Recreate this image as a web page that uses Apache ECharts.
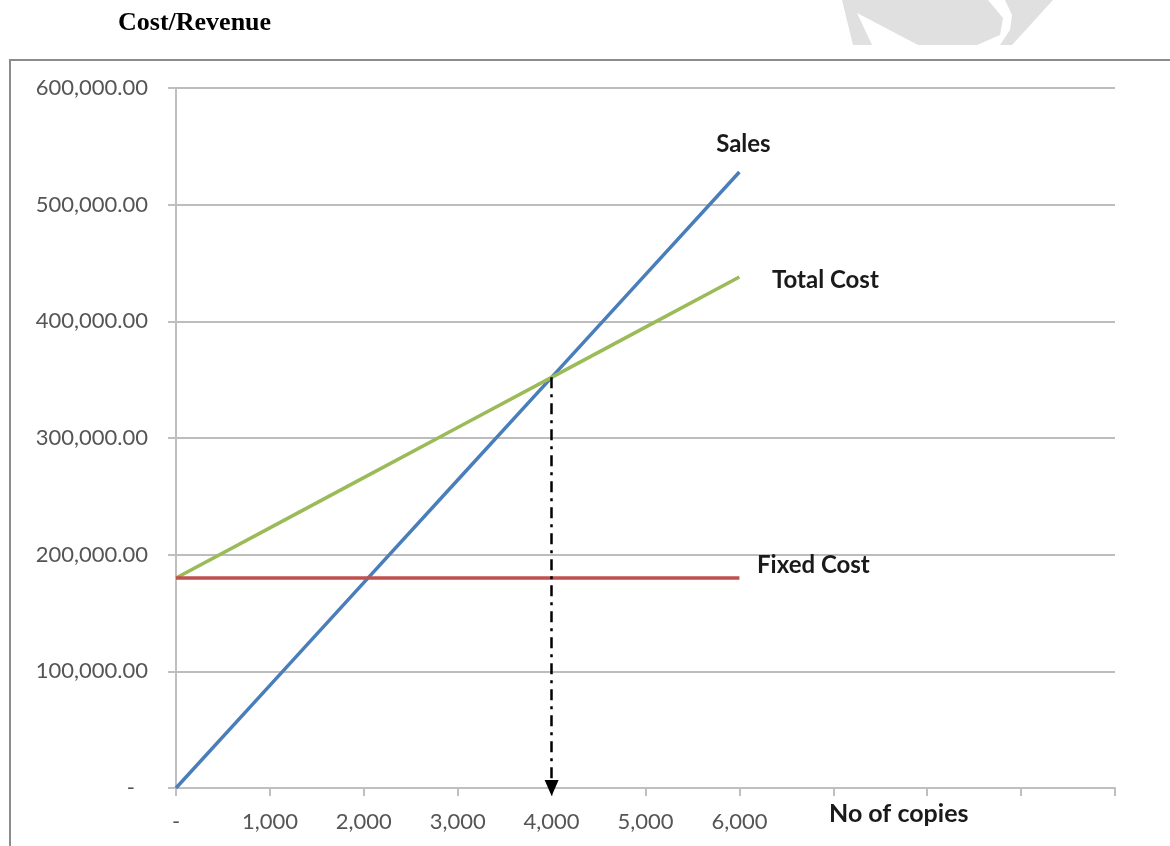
<!DOCTYPE html>
<html>
<head>
<meta charset="utf-8">
<title>Cost/Revenue</title>
<script src="https://cdn.jsdelivr.net/npm/echarts@6/dist/echarts.min.js"></script>
<style>
  html, body { margin: 0; padding: 0; background: #fff; }
  #main { width: 1170px; height: 846px; }
</style>
</head>
<body>
<div id="main"></div>
<script>
// break-even chart data
var copies = [0, 1000, 2000, 3000, 4000, 5000, 6000];
var sales = [0, 88000, 176000, 264000, 352000, 440000, 528000];
var totalCost = [180000, 223000, 266000, 309000, 352000, 395000, 438000];
var fixedCost = [180000, 180000, 180000, 180000, 180000, 180000, 180000];
var xTicks = ['-', '1,000', '2,000', '3,000', '4,000', '5,000', '6,000'];
var yTicks = ['-', '100,000.00', '200,000.00', '300,000.00', '400,000.00', '500,000.00', '600,000.00'];
var breakEven = [4000, 352000];

function pairs(ys) {
  return copies.map(function (x, i) { return [x, ys[i]]; });
}

var labelFont = 'Lato, "Open Sans", sans-serif';

function endTag(text, ys, offset) {
  return {
    symbol: 'circle',
    symbolSize: 0,
    silent: true,
    data: [{ coord: [copies[copies.length - 1], ys[ys.length - 1]] }],
    label: {
      show: true,
      position: 'inside',
      formatter: text,
      offset: offset,
      color: '#1a1a1a',
      fontFamily: labelFont,
      fontWeight: 'bold',
      fontSize: 24
    }
  };
}

var dom = document.getElementById('main');
var myChart = echarts.init(dom, null, { renderer: 'canvas' });

var option = {
  animation: false,
  backgroundColor: '#fff',
  grid: { left: 176, right: 55, top: 88, bottom: 58 },
  xAxis: {
    type: 'value',
    min: 0,
    max: 10000,
    interval: 1000,
    axisLine: { show: true, lineStyle: { color: '#bfbfbf', width: 2 } },
    axisTick: { show: true, length: 8, lineStyle: { color: '#bfbfbf', width: 2 } },
    splitLine: { show: false },
    axisLabel: {
      margin: 23,
      color: '#555',
      fontFamily: labelFont,
      fontSize: 22,
      formatter: function (v) {
        var i = v / 1000;
        return i < xTicks.length ? xTicks[i] : '';
      }
    }
  },
  yAxis: {
    type: 'value',
    min: 0,
    max: 600000,
    interval: 100000,
    axisLine: { show: true, lineStyle: { color: '#bfbfbf', width: 2 } },
    axisTick: { show: true, length: 8, lineStyle: { color: '#bfbfbf', width: 2 } },
    splitLine: { show: true, lineStyle: { color: '#bdbdbd', width: 2 } },
    axisLabel: {
      margin: 28,
      color: '#555',
      fontFamily: labelFont,
      fontSize: 22,
      formatter: function (v) {
        var s = yTicks[v / 100000];
        return v === 0 ? '{d|' + s + '}' : s;
      },
      rich: { d: { padding: [0, 13, 0, 0], fontFamily: labelFont, fontSize: 22, color: '#555' } }
    }
  },
  series: [
    {
      name: 'Sales',
      type: 'line',
      data: pairs(sales),
      showSymbol: false,
      lineStyle: { color: '#4a7ebb', width: 3.5 },
      markPoint: endTag('Sales', sales, [4, -28]),
      markLine: {
        silent: true,
        symbol: ['none', 'triangle'],
        symbolSize: [14, 16],
        label: { show: false },
        lineStyle: { color: '#000', width: 2.5, type: [11, 6, 3, 6] },
        data: [[{ coord: breakEven }, { coord: [breakEven[0], 0] }]]
      }
    },
    {
      name: 'Total Cost',
      type: 'line',
      data: pairs(totalCost),
      showSymbol: false,
      lineStyle: { color: '#9bbb59', width: 3.5 },
      markPoint: endTag('Total Cost', totalCost, [86, 3])
    },
    {
      name: 'Fixed Cost',
      type: 'line',
      data: pairs(fixedCost),
      showSymbol: false,
      lineStyle: { color: '#c0504d', width: 3.5 },
      markPoint: endTag('Fixed Cost', fixedCost, [74, -13])
    }
  ],
  graphic: [
    // faint watermark fragment at top right
    {
      type: 'polygon', silent: true, z: -2,
      shape: { points: [[842, 0], [988, 0], [1003, 18], [1000, 35], [977, 45], [853, 45]] },
      style: { fill: '#e0e0e0' }
    },
    {
      type: 'polygon', silent: true, z: -1,
      shape: { points: [[857, 13], [872, 45], [918, 45]] },
      style: { fill: '#fff' }
    },
    {
      type: 'polygon', silent: true, z: -2,
      shape: { points: [[1005, 0], [1053, 0], [1012, 45], [1000, 45], [1010, 30], [1012, 15]] },
      style: { fill: '#e0e0e0' }
    },
    // chart frame
    {
      type: 'polyline', silent: true,
      shape: { points: [[10, 900], [10, 60], [1200, 60]] },
      style: { stroke: '#8c8c8c', lineWidth: 2, fill: null }
    },
    {
      type: 'text', left: 118, top: 10,
      style: { text: 'Cost/Revenue', fill: '#000', font: 'bold 26px "Liberation Serif", "Times New Roman", serif' }
    },
    {
      type: 'text', left: 829, top: 801,
      style: { text: 'No of copies', fill: '#1a1a1a', font: 'bold 25px ' + labelFont }
    }
  ]
};

myChart.setOption(option);
window.addEventListener('resize', myChart.resize);
</script>
</body>
</html>
